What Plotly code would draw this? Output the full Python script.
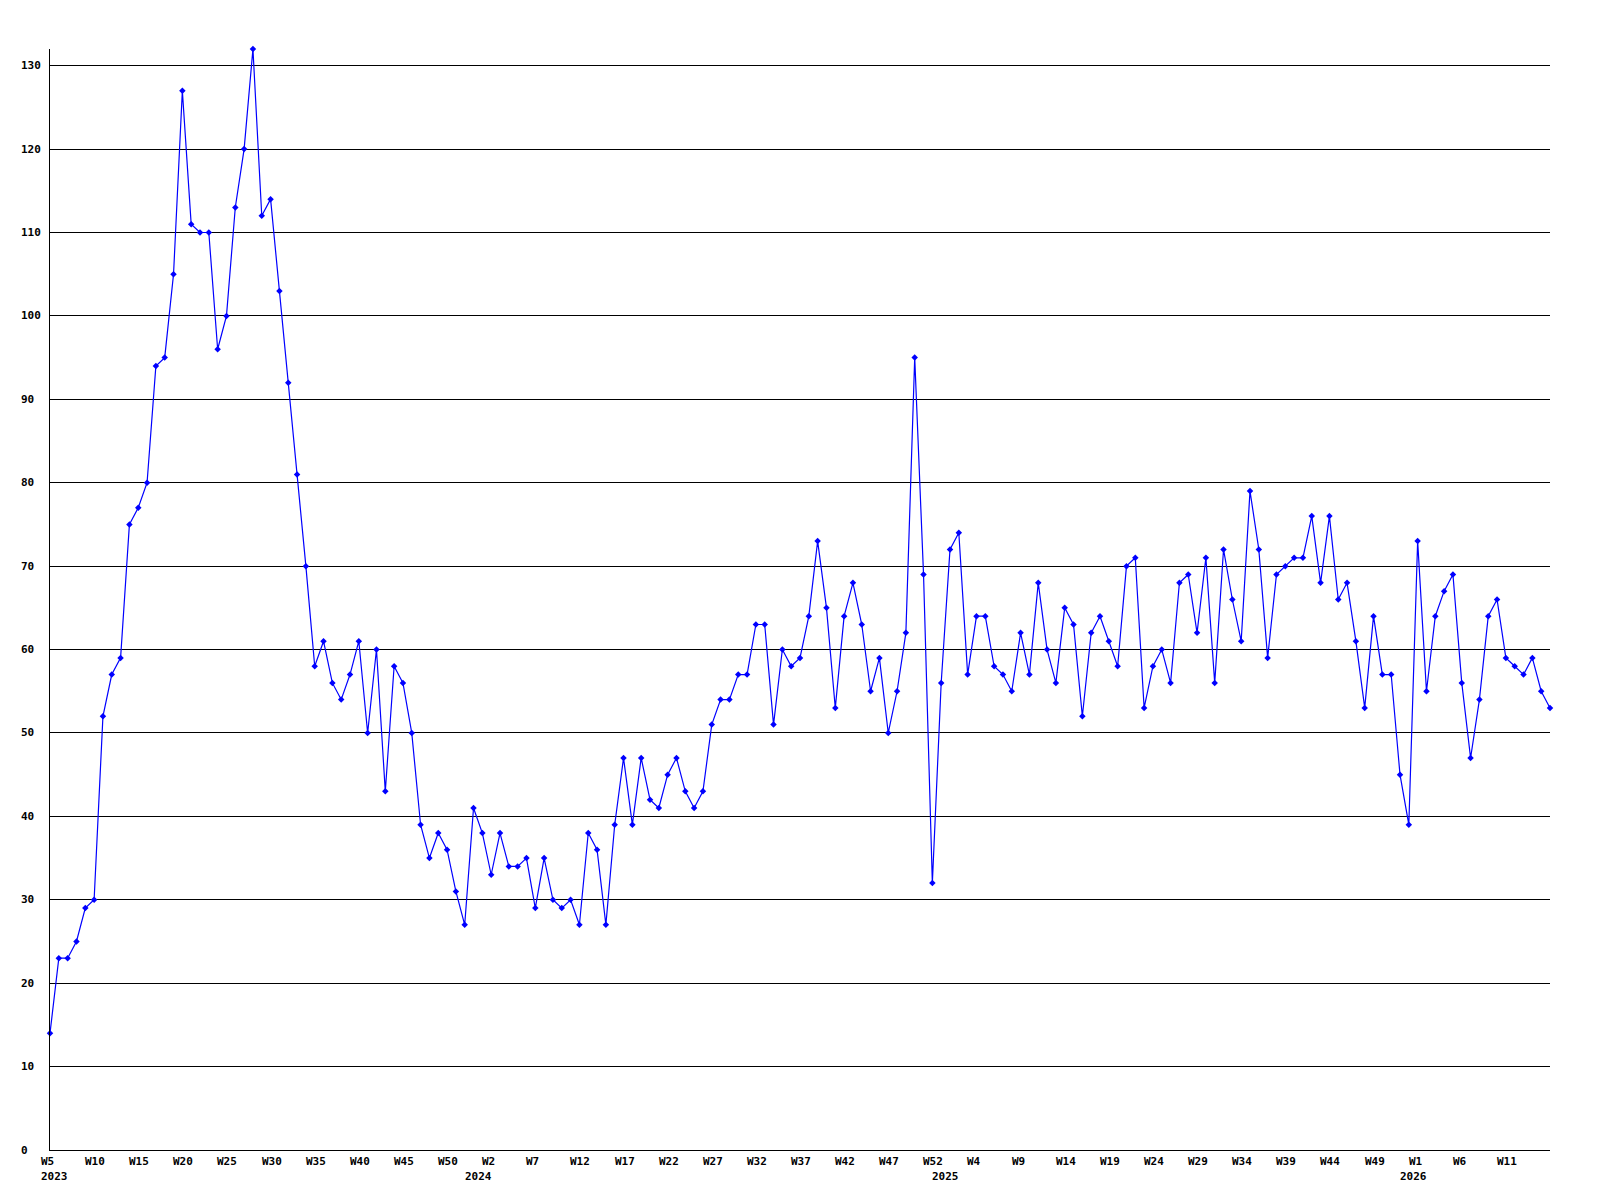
import plotly.graph_objects as go

# weekly values, 2023 W5 onwards
values = [
    14, 23, 23, 25, 29, 30, 52, 57, 59, 75, 77, 80, 94, 95, 105, 127, 111, 110, 110, 96,
    100, 113, 120, 132, 112, 114, 103, 92, 81,
    70, 58, 61, 56, 54, 57, 61, 50, 60, 43, 58, 56, 50, 39, 35, 38, 36, 31, 27, 41,
    38, 33, 38, 34, 34, 35, 29, 35, 30, 29, 30, 27, 38, 36, 27, 39, 47, 39, 47, 42,
    41, 45, 47, 43, 41, 43, 51, 54,
    54, 57, 57, 63, 63, 51, 60, 58, 59, 64, 73, 65, 53, 64, 68, 63, 55, 59, 50, 55,
    62, 95, 69, 32, 56, 72, 74,
    57, 64, 64, 58, 57, 55, 62, 57, 68, 60, 56, 65, 63, 52, 62, 64, 61, 58, 70, 71,
    53, 58, 60, 56, 68, 69, 62, 71, 56, 72, 66, 61, 79,
    72, 59, 69, 70, 71, 71, 76, 68, 76, 66, 68, 61, 53, 64, 57, 57, 45, 39, 73, 55,
    64, 67, 69, 56, 47, 54, 64, 66, 59, 58, 57, 59, 55, 53,
]

week_labels = [
    "W5", "W10", "W15", "W20", "W25", "W30", "W35", "W40", "W45", "W50",
    "W2", "W7", "W12", "W17", "W22", "W27", "W32", "W37", "W42", "W47", "W52",
    "W4", "W9", "W14", "W19", "W24", "W29", "W34", "W39", "W44", "W49",
    "W1", "W6", "W11",
]
label_step = 5

year_labels = ["2023", "2024", "2025", "2026"]
year_index = [0, 48, 101, 154]

y_ticks = list(range(0, 140, 10))

FONT = dict(family="DejaVu Sans Mono", size=11, color="black")

x = list(range(len(values)))

fig = go.Figure()
fig.add_trace(
    go.Scatter(
        x=x,
        y=values,
        mode="lines+markers",
        line=dict(color="#0000FF", width=1.2),
        marker=dict(symbol="diamond", size=5, color="#0000FF"),
        cliponaxis=False,
        showlegend=False,
    )
)

annotations = []
for v in y_ticks:
    annotations.append(dict(
        x=0, xref="paper", y=v, yref="y", text="<b>%d</b>" % v,
        showarrow=False, xanchor="left", yanchor="middle", xshift=-31,
        font=FONT,
    ))
for i, lab in enumerate(week_labels):
    annotations.append(dict(
        x=i * label_step, xref="x", y=0, yref="paper", text="<b>%s</b>" % lab,
        showarrow=False, xanchor="left", yanchor="top", xshift=-11, yshift=-3,
        font=FONT,
    ))
for idx, lab in zip(year_index, year_labels):
    annotations.append(dict(
        x=idx, xref="x", y=0, yref="paper", text="<b>%s</b>" % lab,
        showarrow=False, xanchor="left", yanchor="top", xshift=-11, yshift=-18,
        font=FONT,
    ))

# page body adds 8px, so margins are pulled in to keep the plot where the original sits
fig.update_layout(
    width=1600,
    height=1200,
    autosize=False,
    margin=dict(l=42, r=58, t=41, b=58),
    paper_bgcolor="white",
    plot_bgcolor="white",
    annotations=annotations,
    xaxis=dict(
        range=[0, len(values) - 1],
        showgrid=False,
        zeroline=False,
        showline=True,
        linecolor="black",
        linewidth=1,
        showticklabels=False,
        ticks="",
    ),
    yaxis=dict(
        range=[0, 132],
        tickvals=y_ticks,
        showgrid=True,
        gridcolor="black",
        gridwidth=1,
        zeroline=False,
        showline=True,
        linecolor="black",
        linewidth=1,
        showticklabels=False,
        ticks="",
    ),
)

fig.write_html("out.html")
